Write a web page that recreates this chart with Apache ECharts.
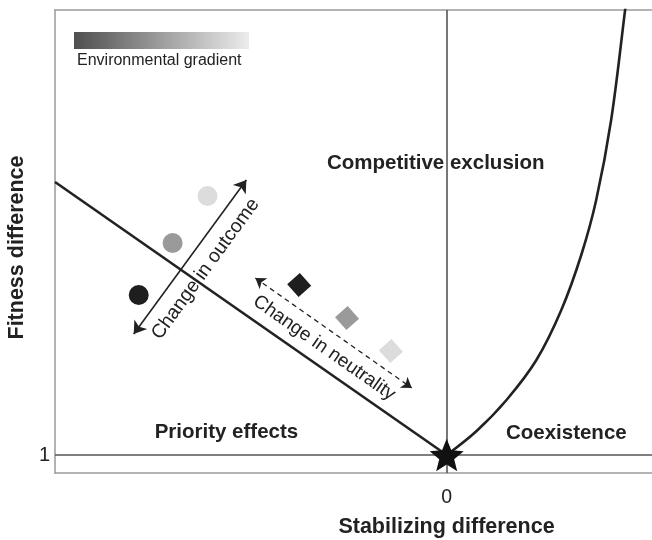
<!DOCTYPE html>
<html>
<head>
<meta charset="utf-8">
<script src="https://cdn.jsdelivr.net/npm/echarts@6/dist/echarts.min.js"></script>
<style>html,body{margin:0;padding:0;background:#fff}#c{width:652px;height:540px}</style>
</head>
<body>
<div id="c"></div>
<script>
// ---- data (axis units) ----
const xRange = [-3.93, 2.10];
const yRange = [0.82, 5.45];
const xTickValues = [0];
const yTickValues = [1];
const boundaryLine = [[-3.93, 3.73], [0, 1]];
const coexistenceCurve = [[0, 1], [0.3, 1.24], [0.6, 1.55], [0.9, 1.95], [1.15, 2.45], [1.35, 3.0], [1.5, 3.55], [1.65, 4.35], [1.79, 5.45], [1.82, 5.7]];
const outcomePoints = [[-3.09, 2.60], [-2.75, 3.12], [-2.40, 3.59]];
const neutralityPoints = [[-1.48, 2.70], [-1.00, 2.37], [-0.56, 2.04]];
const outcomeArrow = [[-3.14, 2.21], [-2.01, 3.75]];
const neutralityArrow = [[-1.92, 2.77], [-0.35, 1.67]];
const equilibriumPoint = [[0, 1]];
const regionNames = ['Competitive exclusion', 'Priority effects', 'Coexistence'];
const regionAnchors = [[-0.11, 3.92], [-2.21, 1.23], [1.20, 1.22]];
const outcomeText = 'Change in outcome';
const outcomeTextAnchor = [-2.42, 2.86];
const neutralityText = 'Change in neutrality';
const neutralityTextAnchor = [-1.23, 2.07];

// ---- styles ----
const shades = ['#1e1e1e', '#9a9a9a', '#dcdcdc'];
const FONT = '"Liberation Sans", Arial, sans-serif';
const ink = '#222';
const frame = '#9a9a9a';
const starPath = 'path://M50,0 L62.93,32.2 L97.55,34.55 L70.92,56.8 L79.39,90.45 L50,72 L20.61,90.45 L29.08,56.8 L2.45,34.55 L37.07,32.2 Z';

const chart = echarts.init(document.getElementById('c'), null, {renderer: 'canvas'});

const hiddenItem = {color: 'rgba(0,0,0,0)', borderWidth: 0, opacity: 1};

function textSeries(name, anchor, label) {
  return {
    type: 'scatter', name: name, symbol: 'circle', symbolSize: 2, silent: true, z: 5,
    itemStyle: hiddenItem,
    data: [{value: anchor, name: name}],
    label: Object.assign({show: true, position: 'inside', formatter: '{b}', color: ink, opacity: 1, fontFamily: FONT, align: 'center', verticalAlign: 'middle'}, label)
  };
}

const option = {
  animation: false,
  backgroundColor: '#fff',
  grid: {left: 55, top: 10, right: -4, bottom: 67, show: false, containLabel: false, outerBoundsMode: 'none'},
  xAxis: [{
    type: 'value', min: xRange[0], max: xRange[1], position: 'bottom',
    name: 'Stabilizing difference', nameLocation: 'middle', nameGap: 43,
    nameTextStyle: {fontFamily: FONT, fontSize: 21.5, fontWeight: 'bold', color: ink, padding: [0, 0, 0, 182]},
    axisLine: {show: true, onZero: false, lineStyle: {color: frame, width: 1.5}}, axisTick: {show: false}, splitLine: {show: false},
    axisLabel: {customValues: xTickValues, fontFamily: FONT, fontSize: 19.5, color: ink, margin: 15, formatter: v => String(v)}
  }, {
    type: 'value', min: xRange[0], max: xRange[1], position: 'top',
    axisLine: {show: true, onZero: false, lineStyle: {color: frame, width: 1.5}}, axisTick: {show: false}, splitLine: {show: false}, axisLabel: {show: false}
  }],
  yAxis: {
    type: 'value', min: yRange[0], max: yRange[1],
    name: 'Fitness difference', nameLocation: 'middle', nameGap: 16,
    nameTextStyle: {fontFamily: FONT, fontSize: 21.5, fontWeight: 'bold', color: ink, padding: [0, 12, 0, 0]},
    axisLine: {show: true, onZero: false, lineStyle: {color: frame, width: 1.5}}, axisTick: {show: false}, splitLine: {show: false},
    axisLabel: {customValues: yTickValues, fontFamily: FONT, fontSize: 20, color: ink, margin: 5, formatter: v => String(v)}
  },
  graphic: [
    {type: 'rect', left: 74, top: 32, shape: {width: 175, height: 17},
     style: {fill: new echarts.graphic.LinearGradient(0, 0, 1, 0, [{offset: 0, color: '#4f4f4f'}, {offset: 1, color: '#ececec'}])}},
    {type: 'text', left: 77, top: 53, style: {text: 'Environmental gradient', font: '16px ' + FONT, fill: ink}}
  ],
  series: [
    {
      type: 'line', name: 'reference', data: [], silent: true,
      markLine: {
        silent: true, symbol: 'none', label: {show: false},
        lineStyle: {color: '#555', width: 1.6, type: 'solid'},
        data: [{xAxis: 0}, {yAxis: 1}]
      }
    },
    {type: 'line', name: 'boundary', data: boundaryLine, showSymbol: false, symbol: 'none', lineStyle: {color: ink, width: 2.6}, z: 3},
    {type: 'line', name: 'coexistence', data: coexistenceCurve, smooth: 0.35, showSymbol: false, symbol: 'none', lineStyle: {color: ink, width: 2.6}, z: 3},
    {
      type: 'lines', coordinateSystem: 'cartesian2d', name: 'outcome arrow', polyline: false,
      symbol: ['arrow', 'arrow'], symbolSize: 12,
      lineStyle: {color: ink, width: 1.6, opacity: 1},
      data: [{coords: outcomeArrow}], z: 4
    },
    {
      type: 'lines', coordinateSystem: 'cartesian2d', name: 'neutrality arrow', polyline: false,
      symbol: ['arrow', 'arrow'], symbolSize: 10,
      lineStyle: {color: ink, width: 1.3, type: [5, 4], opacity: 1},
      data: [{coords: neutralityArrow}], z: 4
    },
    {
      type: 'scatter', name: 'outcome', symbol: 'circle', symbolSize: 20, z: 4,
      data: outcomePoints.map((p, i) => ({value: p, itemStyle: {color: shades[i], opacity: 1}}))
    },
    {
      type: 'scatter', name: 'neutrality', symbol: 'rect', symbolSize: 17, symbolRotate: 42, z: 4,
      data: neutralityPoints.map((p, i) => ({value: p, itemStyle: {color: shades[i], opacity: 1}}))
    },
    {type: 'scatter', name: 'equilibrium', symbol: starPath, symbolSize: 34, symbolKeepAspect: true, itemStyle: {color: '#111', opacity: 1}, data: equilibriumPoint, z: 6},
    textSeries(outcomeText, outcomeTextAnchor, {fontSize: 19.5, rotate: 54}),
    textSeries(neutralityText, neutralityTextAnchor, {fontSize: 19, rotate: -35}),
    {
      type: 'scatter', name: 'regions', symbol: 'circle', symbolSize: 2, silent: true, z: 5,
      itemStyle: hiddenItem,
      data: regionNames.map((n, i) => ({name: n, value: regionAnchors[i]})),
      label: {show: true, position: 'inside', formatter: '{b}', color: ink, opacity: 1, fontFamily: FONT, fontSize: 20.5, fontWeight: 'bold', align: 'center', verticalAlign: 'middle'}
    }
  ]
};
chart.setOption(option);
</script>
</body>
</html>
